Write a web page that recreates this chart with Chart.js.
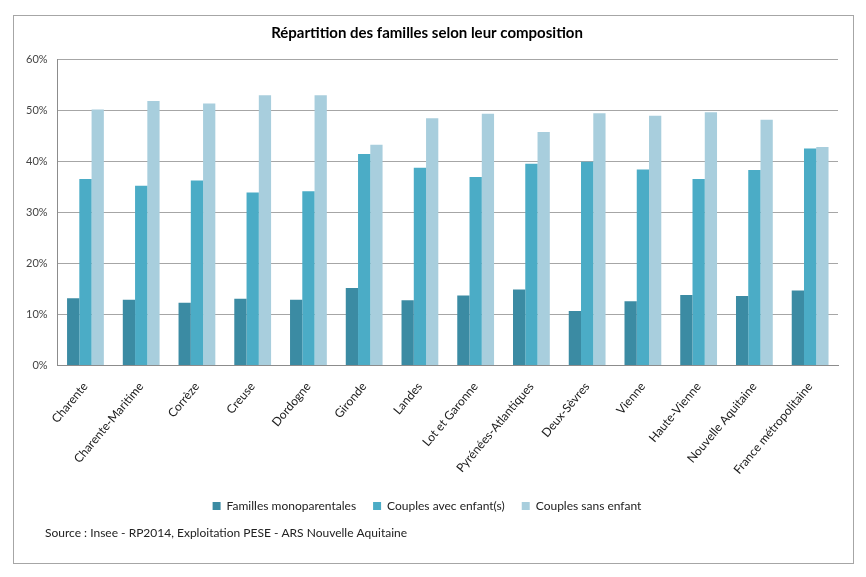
<!DOCTYPE html>
<html>
<head>
<meta charset="utf-8">
<script src="https://cdn.jsdelivr.net/npm/chart.js@4/dist/chart.umd.min.js"></script>
<style>
  html, body { margin: 0; padding: 0; background: #fff; }
  #wrap { width: 866px; height: 577px; position: relative; }
</style>
</head>
<body>
<div id="wrap"><canvas id="myChart"></canvas></div>
<script>
  // donnees du graphique
  const territoires = [
    'Charente', 'Charente-Maritime', 'Corrèze', 'Creuse', 'Dordogne', 'Gironde', 'Landes',
    'Lot et Garonne', 'Pyrénées-Atlantiques', 'Deux-Sèvres', 'Vienne', 'Haute-Vienne',
    'Nouvelle Aquitaine', 'France métropolitaine'
  ];

  const monoparentales = [13.2, 12.9, 12.3, 13.1, 12.9, 15.2, 12.8, 13.7, 14.9, 10.7, 12.6, 13.8, 13.6, 14.7];
  const avecEnfants    = [36.5, 35.2, 36.2, 33.9, 34.1, 41.4, 38.7, 36.9, 39.5, 39.9, 38.4, 36.5, 38.3, 42.5];
  const sansEnfant     = [50.1, 51.8, 51.3, 52.9, 52.9, 43.2, 48.4, 49.3, 45.7, 49.4, 48.9, 49.6, 48.1, 42.8];

  const yTicks = [0, 10, 20, 30, 40, 50, 60];

  const source = 'Source : Insee - RP2014, Exploitation PESE - ARS Nouvelle Aquitaine';

  // cadre autour du graphique + texte de la source
  const cadre = {
    id: 'cadre',
    beforeDraw(chart) {
      const ctx = chart.ctx;
      ctx.save();
      ctx.fillStyle = '#fff';
      ctx.fillRect(0, 0, chart.width, chart.height);
      ctx.strokeStyle = '#a6a6a6';
      ctx.lineWidth = 1;
      ctx.strokeRect(13.5, 15.5, 840, 548);
      ctx.restore();
    },
    afterDraw(chart) {
      const ctx = chart.ctx;
      ctx.save();
      ctx.fillStyle = '#222';
      ctx.font = '12px Lato';
      ctx.textBaseline = 'middle';
      ctx.fillText(source, 45, 533);
      ctx.restore();
    }
  };

  const data = {
    labels: territoires,
    datasets: [{
      label: 'Familles monoparentales',
      backgroundColor: '#3b8ba3',
      data: monoparentales,
    }, {
      label: 'Couples avec enfant(s)',
      backgroundColor: '#4bacc6',
      data: avecEnfants,
    }, {
      label: 'Couples sans enfant',
      backgroundColor: '#a8cedd',
      data: sansEnfant,
    }]
  };

  const config = {
    type: 'bar',
    data: data,
    options: {
      responsive: true,
      maintainAspectRatio: false,
      animation: false,
      layout: { padding: { left: 16, right: 28, top: 20, bottom: 55 } },
      datasets: {
        bar: { categoryPercentage: 0.66, barPercentage: 1.0 }
      },
      scales: {
        x: {
          grid: { display: false },
          border: { color: '#8c8c8c' },
          ticks: {
            minRotation: 50, maxRotation: 50,
            padding: 6,
            color: '#222',
            font: { family: 'Lato', size: 12 }
          }
        },
        y: {
          min: 0, max: 60,
          afterBuildTicks(axis) { axis.ticks = yTicks.map(v => ({ value: v })); },
          grid: { color: '#a6a6a6', drawTicks: false },
          border: { color: '#8c8c8c' },
          ticks: {
            padding: 10,
            color: '#444',
            font: { family: 'Lato', size: 11 },
            callback: v => v + '%'
          }
        }
      },
      plugins: {
        title: {
          display: true,
          text: 'Répartition des familles selon leur composition',
          color: '#000',
          font: { family: 'Lato', size: 15, weight: 'bold' },
          padding: { top: 4, bottom: 17 }
        },
        legend: {
          position: 'bottom',
          labels: {
            boxWidth: 8, boxHeight: 8,
            color: '#222',
            font: { family: 'Lato', size: 12 },
            padding: 17
          }
        },
        tooltip: { enabled: false }
      }
    },
    plugins: [cadre]
  };

  const myChart = new Chart(document.getElementById('myChart'), config);
</script>
</body>
</html>
